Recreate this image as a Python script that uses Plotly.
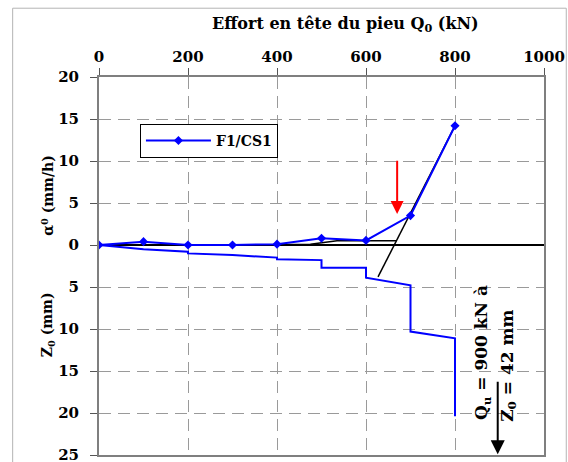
import plotly.graph_objects as go

# Effort en tête du pieu (kN) and creep rate alpha0 (mm/h)
q_alpha = [0, 100, 200, 300, 400, 500, 600, 700, 800]
alpha = [0, 0.4, 0.0, 0.0, 0.1, 0.8, 0.55, 3.5, 14.2]

# settlement Z0 (mm) along the loading stages (drawn downward)
q_z = [0, 100, 200, 200, 300, 400, 400, 500, 500, 600, 600, 700, 700, 800, 800]
z0 = [0, 0.5, 0.8, 1.0, 1.2, 1.5, 1.7, 1.8, 2.7, 2.7, 3.9, 4.8, 10.3, 11.1, 20.4]

# construction lines (tangents) on the alpha curve
tan1_q = [400, 475, 535, 668]
tan1_a = [0.05, 0.1, 0.5, 0.5]
tan2_q = [627, 800]
tan2_a = [-3.8, 14.2]

x_ticks = [0, 200, 400, 600, 800, 1000]
y_ticks = [-25, -20, -15, -10, -5, 0, 5, 10, 15, 20]

FONT = "DejaVu Serif"

fig = go.Figure()

fig.add_trace(go.Scatter(
    x=q_z, y=[-v for v in z0],
    mode="lines",
    line=dict(color="#0000FF", width=2),
    showlegend=False,
))

fig.add_trace(go.Scatter(
    x=tan1_q, y=tan1_a, mode="lines",
    line=dict(color="black", width=1.5),
    showlegend=False,
))
fig.add_trace(go.Scatter(
    x=tan2_q, y=tan2_a, mode="lines",
    line=dict(color="black", width=1.5),
    showlegend=False,
))

fig.add_trace(go.Scatter(
    x=q_alpha, y=alpha,
    mode="lines+markers",
    line=dict(color="#0000FF", width=2),
    marker=dict(symbol="diamond", size=7, color="#0000FF"),
    name="F1/CS1",
))

axis_common = dict(
    showgrid=True,
    gridcolor="#9a9a9a",
    griddash="12px,7px",
    gridwidth=1,
    showline=True,
    linecolor="#7f7f7f",
    linewidth=2,
    mirror=True,
    ticks="outside",
    ticklen=7,
    tickcolor="#555555",
    automargin=False,
    ticklabeloverflow="allow",
    tickfont=dict(family=FONT, size=15, color="black", weight="bold"),
)

fig.update_xaxes(
    side="top",
    range=[0, 1000],
    tickvals=x_ticks,
    ticktext=[str(v) for v in x_ticks],
    zeroline=False,
    ticklabelstandoff=0,
    **axis_common,
)
fig.update_yaxes(
    range=[-25, 20],
    tickvals=y_ticks,
    ticktext=[str(abs(v)) for v in y_ticks],
    zeroline=True,
    zerolinecolor="black",
    zerolinewidth=1.5,
    ticklabelstandoff=8,
    **axis_common,
)

annotations = [
    dict(text="Effort en tête du pieu Q<sub>0</sub> (kN)", xref="paper", yref="paper",
         x=0.555, y=1.14, yanchor="middle", showarrow=False,
         font=dict(family=FONT, size=16, color="black", weight="bold")),
    dict(text="α<sup>0</sup> (mm/h)", xref="paper", yref="paper",
         x=-0.14, y=0.8, textangle=-90, showarrow=False,
         font=dict(family=FONT, size=14, color="black", weight="bold")),
    dict(text="Z<sub>0</sub> (mm)", xref="paper", yref="paper",
         x=-0.14, y=0.345, textangle=-90, showarrow=False,
         font=dict(family=FONT, size=14, color="black", weight="bold")),
    # red arrow marking the break of the alpha curve
    dict(x=670, y=3.7, ax=670, ay=10.2, xref="x", yref="y", axref="x", ayref="y",
         showarrow=True, arrowhead=2, arrowsize=1.3, arrowwidth=2, arrowcolor="#FF0000", text=""),
    # black arrow for the ultimate load
    dict(x=896, y=-24.9, ax=896, ay=-16.1, xref="x", yref="y", axref="x", ayref="y",
         showarrow=True, arrowhead=2, arrowsize=1.4, arrowwidth=2, arrowcolor="black", text=""),
    dict(text="Q<sub>u</sub> = 900 kN à", x=862, y=-12.8, xref="x", yref="y",
         textangle=-90, showarrow=False,
         font=dict(family=FONT, size=17, color="black", weight="bold")),
    dict(text="Z<sub>0</sub> = 42 mm", x=921, y=-14.4, xref="x", yref="y",
         textangle=-90, showarrow=False,
         font=dict(family=FONT, size=17, color="black", weight="bold")),
]

fig.update_layout(
    width=568, height=462,
    margin=dict(l=99, r=24, t=77, b=7),
    paper_bgcolor="white",
    plot_bgcolor="white",
    showlegend=True,
    legend=dict(
        x=0.092, y=0.876, xanchor="left", yanchor="top",
        bgcolor="white", bordercolor="black", borderwidth=1,
        font=dict(family=FONT, size=14, color="black", weight="bold"),
        itemwidth=65,
    ),
    annotations=annotations,
    shapes=[dict(type="rect", xref="paper", yref="paper",
                 x0=-0.194, x1=1.05, y0=-0.05, y1=1.182,
                 line=dict(color="#b4b4b4", width=1))],
)

# page body has a default 8px margin; drop it so the figure sits at the window corner
fig.write_html("out.html", config={"displayModeBar": False},
               post_script="document.body.style.margin='0';")
